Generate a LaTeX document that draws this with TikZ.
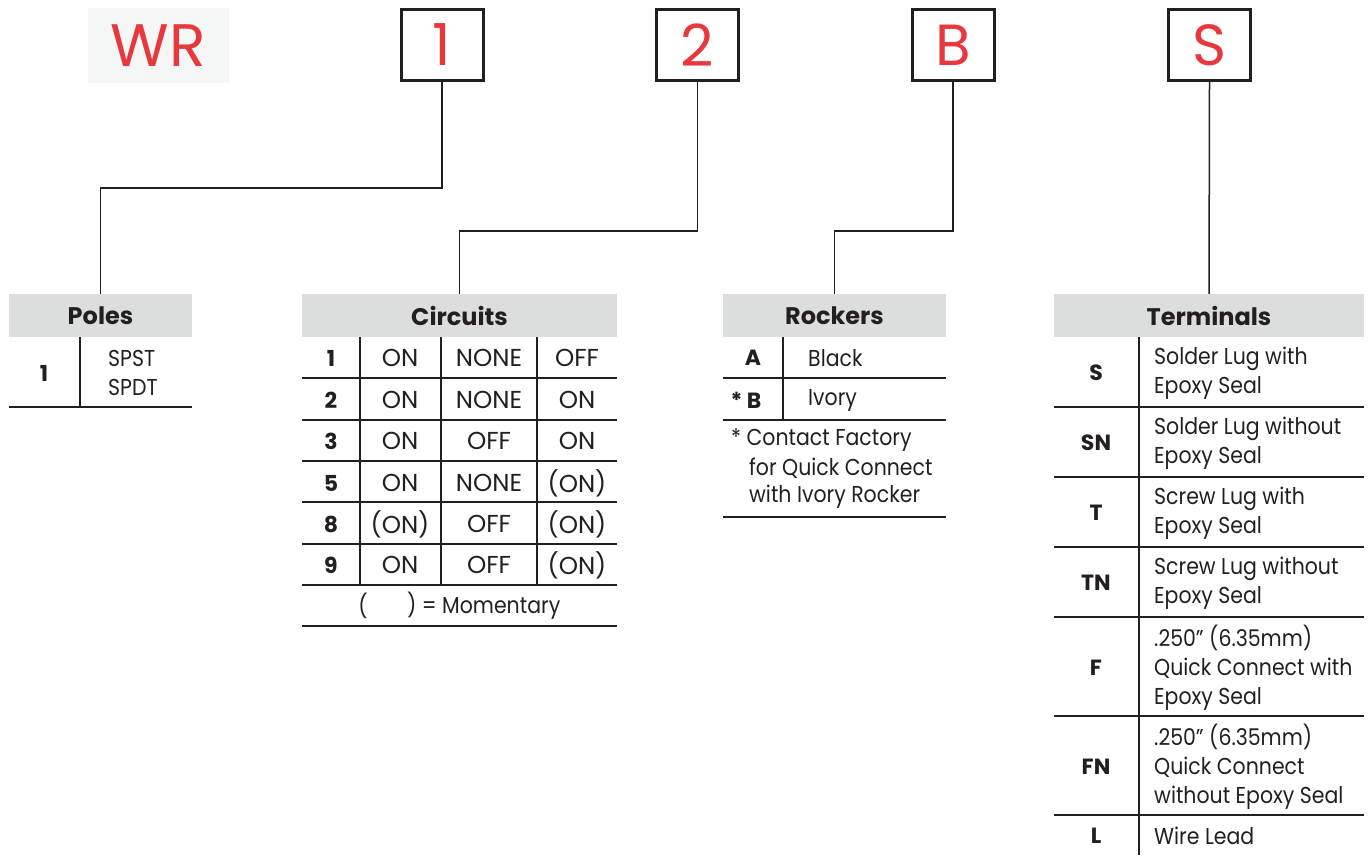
\documentclass[tikz,border=0pt]{standalone}
\usepackage{fontspec}
\setmainfont{Poppins}
\newfontfamily\narrowfont[FakeStretch=0.89]{Poppins}
\definecolor{wrred}{HTML}{E8383D}
\definecolor{hdrgray}{HTML}{DCDDDD}
\definecolor{wrbg}{HTML}{F5F7F6}
\definecolor{ink}{HTML}{231F20}
\tikzset{
  every picture/.style={x=1pt,y=-1pt},
  ln/.style={draw=ink,line width=1.5pt},
  codebox/.style={draw=ink,line width=3pt,minimum width=82pt,minimum height=71pt,inner sep=0pt,text=wrred,font=\fontsize{58}{58}\selectfont},
  hdr/.style={fill=hdrgray,minimum height=43pt,inner sep=0pt,text=ink,font=\fontsize{24}{29}\selectfont\bfseries},
  cell/.style={inner sep=0pt,text=ink,font=\fontsize{24.5}{29}\selectfont},
  key/.style={inner sep=0pt,text=ink,font=\fontsize{22}{29}\selectfont\bfseries},
  desc/.style={inner sep=0pt,anchor=west,text=ink,align=left,font=\narrowfont\fontsize{23}{29}\selectfont},
}
\begin{document}
\begin{tikzpicture}
\useasboundingbox (0,0) rectangle (1370,855);
% code boxes
\node[fill=wrbg,minimum width=141pt,minimum height=75pt,inner sep=0pt,text=wrred,font=\fontsize{60}{60}\selectfont] (wr) at (158.5,45.5) {WR};
\node[codebox] (b1) at (442,45) {1};
\node[codebox] (b2) at (697.5,45) {2};
\node[codebox] (bB) at (953,45) {B};
\node[codebox] (bS) at (1209.5,45) {S};
% headers
\node[hdr,minimum width=183pt] (poles) at (100.5,315.5) {Poles};
\node[hdr,minimum width=315pt] (circ) at (459.5,315.5) {Circuits};
\node[hdr,minimum width=223pt] (rock) at (834.5,315.5) {Rockers};
\node[hdr,minimum width=310pt] (term) at (1209,315.5) {Terminals};
% connectors
\draw[ln] (b1.south) -- ++(0,106) -| (poles.north);
\draw[ln] (b2.south) -- ++(0,149) -| (circ.north);
\draw[ln] (bB.south) -- ++(0,149) -| (rock.north);
\draw[ln] (bS.south) -- (term.north);
% Poles table
\draw[ln] (9,407) -- (192,407);
\draw[ln] (80,337) -- (80,407);
\node[key] (p1) at (44,373) {1};
\node[desc] (pd) at (108,373) {SPST\\SPDT};
% Circuits table
\foreach \y in {378,420,461,502,544,585,626} \draw[ln] (302,\y) -- (617,\y);
\foreach \x in {360,441,537} \draw[ln] (\x,337) -- (\x,585);
\foreach \n/\a/\b/\c/\y [count=\i] in {1/ON/NONE/OFF/358,2/ON/NONE/ON/400,3/ON/OFF/ON/441,5/ON/NONE/(ON)/483,8/(ON)/OFF/(ON)/524,9/ON/OFF/(ON)/565}{
  \node[key] (cn\i) at (331,\y) {\n};
  \node[cell] (ca\i) at (400,\y) {\a};
  \node[cell] (cb\i) at (489,\y) {\b};
  \node[cell] (cc\i) at (577,\y) {\c};
}
\node[desc,anchor=center] (cfl) at (363,606) {(};
\node[desc] (cfr) at (407,606) {) = Momentary};
% Rockers table
\foreach \y in {378,420,517} \draw[ln] (723,\y) -- (946,\y);
\draw[ln] (783,337) -- (783,420);
\node[key] (ra) at (753,358) {A};
\node[key] (rb) at (746,400) {* B};
\node[desc] (rad) at (808,358) {Black};
\node[desc] (rbd) at (808,400) {Ivory};
\node[desc] (rf1) at (731,440) {* Contact Factory};
\node[desc] (rf2) at (749,468) {for Quick Connect};
\node[desc] (rf3) at (749,497) {with Ivory Rocker};
% Terminals table
\foreach \y in {407,477,547,617,716,815} \draw[ln] (1054,\y) -- (1364,\y);
\draw[ln] (1139,337) -- (1139,855);
\foreach \k/\d/\y [count=\i] in {S/{Solder Lug with\\Epoxy Seal}/373,SN/{Solder Lug without\\Epoxy Seal}/443,T/{Screw Lug with\\Epoxy Seal}/513,TN/{Screw Lug without\\Epoxy Seal}/583,F/{.250\textquotedblright\ (6.35mm)\\Quick Connect with\\Epoxy Seal}/668,FN/{.250\textquotedblright\ (6.35mm)\\Quick Connect\\without Epoxy Seal}/767,L/{Wire Lead}/836}{
  \node[key] (tk\i) at (1096,\y) {\k};
  \node[desc] (td\i) at (1154,\y) {\d};
}
\end{tikzpicture}
\end{document}
